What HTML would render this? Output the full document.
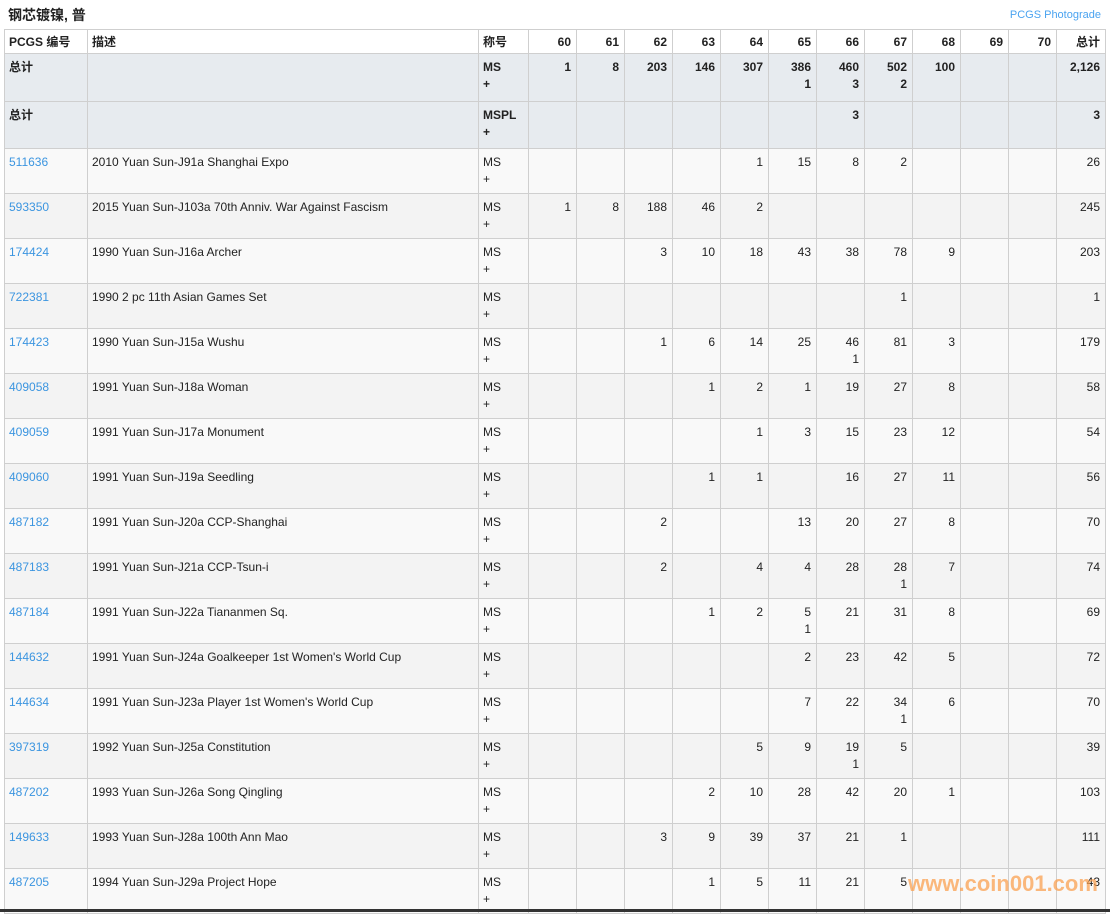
<!DOCTYPE html>
<html><head><meta charset="utf-8"><style>
body{margin:0;width:1110px;height:912px;overflow:hidden;background:#fff;font-family:"Liberation Sans","Noto Sans CJK SC",sans-serif;font-size:12px;color:#222;position:relative}
.t{position:absolute;left:8px;top:5px;font-weight:bold;font-size:14px}
.p{position:absolute;right:9px;top:9px;color:#4aa3f0;font-size:11px}
table{position:absolute;left:4px;top:29px;border-collapse:collapse;table-layout:fixed;width:1102px}
td{border:1px solid #cfcfcf;vertical-align:top;padding:5px 4px 0 4px;line-height:17px;overflow:hidden;white-space:nowrap}
td.n{text-align:right;padding-right:5px}
tr.h td{height:19px;font-weight:bold;padding-top:4px}
tr.s td{height:42px;background:#e7ebef;font-weight:bold}
tr.s2 td{height:41px}
tr.a td{height:39px;background:#f9f9f9}
tr.b td{height:39px;background:#f3f3f3}
a{color:#3b95e0;text-decoration:none}
.w{position:absolute;left:908px;top:871px;font:bold 22px "Liberation Sans",sans-serif;color:rgba(250,160,80,.75)}
.bl{position:absolute;left:0;top:909px;width:1110px;height:3px;background:#333}
</style></head><body>
<div class="t">钢芯镀镍, 普</div>
<div class="p">PCGS Photograde</div>
<table>
<colgroup><col style="width:83px"><col style="width:391px"><col style="width:50px"><col style="width:48px"><col style="width:48px"><col style="width:48px"><col style="width:48px"><col style="width:48px"><col style="width:48px"><col style="width:48px"><col style="width:48px"><col style="width:48px"><col style="width:48px"><col style="width:48px"><col style="width:49px"></colgroup>
<tr class="h"><td>PCGS 编号</td><td>描述</td><td>称号</td><td class="n">60</td><td class="n">61</td><td class="n">62</td><td class="n">63</td><td class="n">64</td><td class="n">65</td><td class="n">66</td><td class="n">67</td><td class="n">68</td><td class="n">69</td><td class="n">70</td><td class="n">总计</td></tr>
<tr class="s"><td>总计</td><td></td><td>MS<br>+</td><td class="n">1</td><td class="n">8</td><td class="n">203</td><td class="n">146</td><td class="n">307</td><td class="n">386<br>1</td><td class="n">460<br>3</td><td class="n">502<br>2</td><td class="n">100</td><td></td><td></td><td class="n">2,126</td></tr>
<tr class="s s2"><td>总计</td><td></td><td>MSPL<br>+</td><td></td><td></td><td></td><td></td><td></td><td></td><td class="n">3</td><td></td><td></td><td></td><td></td><td class="n">3</td></tr>
<tr class="a"><td><a>511636</a></td><td>2010 Yuan Sun-J91a Shanghai Expo</td><td>MS<br>+</td><td></td><td></td><td></td><td></td><td class="n">1</td><td class="n">15</td><td class="n">8</td><td class="n">2</td><td></td><td></td><td></td><td class="n">26</td></tr>
<tr class="b"><td><a>593350</a></td><td>2015 Yuan Sun-J103a 70th Anniv. War Against Fascism</td><td>MS<br>+</td><td class="n">1</td><td class="n">8</td><td class="n">188</td><td class="n">46</td><td class="n">2</td><td></td><td></td><td></td><td></td><td></td><td></td><td class="n">245</td></tr>
<tr class="a"><td><a>174424</a></td><td>1990 Yuan Sun-J16a Archer</td><td>MS<br>+</td><td></td><td></td><td class="n">3</td><td class="n">10</td><td class="n">18</td><td class="n">43</td><td class="n">38</td><td class="n">78</td><td class="n">9</td><td></td><td></td><td class="n">203</td></tr>
<tr class="b"><td><a>722381</a></td><td>1990 2 pc 11th Asian Games Set</td><td>MS<br>+</td><td></td><td></td><td></td><td></td><td></td><td></td><td></td><td class="n">1</td><td></td><td></td><td></td><td class="n">1</td></tr>
<tr class="a"><td><a>174423</a></td><td>1990 Yuan Sun-J15a Wushu</td><td>MS<br>+</td><td></td><td></td><td class="n">1</td><td class="n">6</td><td class="n">14</td><td class="n">25</td><td class="n">46<br>1</td><td class="n">81</td><td class="n">3</td><td></td><td></td><td class="n">179</td></tr>
<tr class="b"><td><a>409058</a></td><td>1991 Yuan Sun-J18a Woman</td><td>MS<br>+</td><td></td><td></td><td></td><td class="n">1</td><td class="n">2</td><td class="n">1</td><td class="n">19</td><td class="n">27</td><td class="n">8</td><td></td><td></td><td class="n">58</td></tr>
<tr class="a"><td><a>409059</a></td><td>1991 Yuan Sun-J17a Monument</td><td>MS<br>+</td><td></td><td></td><td></td><td></td><td class="n">1</td><td class="n">3</td><td class="n">15</td><td class="n">23</td><td class="n">12</td><td></td><td></td><td class="n">54</td></tr>
<tr class="b"><td><a>409060</a></td><td>1991 Yuan Sun-J19a Seedling</td><td>MS<br>+</td><td></td><td></td><td></td><td class="n">1</td><td class="n">1</td><td></td><td class="n">16</td><td class="n">27</td><td class="n">11</td><td></td><td></td><td class="n">56</td></tr>
<tr class="a"><td><a>487182</a></td><td>1991 Yuan Sun-J20a CCP-Shanghai</td><td>MS<br>+</td><td></td><td></td><td class="n">2</td><td></td><td></td><td class="n">13</td><td class="n">20</td><td class="n">27</td><td class="n">8</td><td></td><td></td><td class="n">70</td></tr>
<tr class="b"><td><a>487183</a></td><td>1991 Yuan Sun-J21a CCP-Tsun-i</td><td>MS<br>+</td><td></td><td></td><td class="n">2</td><td></td><td class="n">4</td><td class="n">4</td><td class="n">28</td><td class="n">28<br>1</td><td class="n">7</td><td></td><td></td><td class="n">74</td></tr>
<tr class="a"><td><a>487184</a></td><td>1991 Yuan Sun-J22a Tiananmen Sq.</td><td>MS<br>+</td><td></td><td></td><td></td><td class="n">1</td><td class="n">2</td><td class="n">5<br>1</td><td class="n">21</td><td class="n">31</td><td class="n">8</td><td></td><td></td><td class="n">69</td></tr>
<tr class="b"><td><a>144632</a></td><td>1991 Yuan Sun-J24a Goalkeeper 1st Women's World Cup</td><td>MS<br>+</td><td></td><td></td><td></td><td></td><td></td><td class="n">2</td><td class="n">23</td><td class="n">42</td><td class="n">5</td><td></td><td></td><td class="n">72</td></tr>
<tr class="a"><td><a>144634</a></td><td>1991 Yuan Sun-J23a Player 1st Women's World Cup</td><td>MS<br>+</td><td></td><td></td><td></td><td></td><td></td><td class="n">7</td><td class="n">22</td><td class="n">34<br>1</td><td class="n">6</td><td></td><td></td><td class="n">70</td></tr>
<tr class="b"><td><a>397319</a></td><td>1992 Yuan Sun-J25a Constitution</td><td>MS<br>+</td><td></td><td></td><td></td><td></td><td class="n">5</td><td class="n">9</td><td class="n">19<br>1</td><td class="n">5</td><td></td><td></td><td></td><td class="n">39</td></tr>
<tr class="a"><td><a>487202</a></td><td>1993 Yuan Sun-J26a Song Qingling</td><td>MS<br>+</td><td></td><td></td><td></td><td class="n">2</td><td class="n">10</td><td class="n">28</td><td class="n">42</td><td class="n">20</td><td class="n">1</td><td></td><td></td><td class="n">103</td></tr>
<tr class="b"><td><a>149633</a></td><td>1993 Yuan Sun-J28a 100th Ann Mao</td><td>MS<br>+</td><td></td><td></td><td class="n">3</td><td class="n">9</td><td class="n">39</td><td class="n">37</td><td class="n">21</td><td class="n">1</td><td></td><td></td><td></td><td class="n">111</td></tr>
<tr class="a"><td><a>487205</a></td><td>1994 Yuan Sun-J29a Project Hope</td><td>MS<br>+</td><td></td><td></td><td></td><td class="n">1</td><td class="n">5</td><td class="n">11</td><td class="n">21</td><td class="n">5</td><td></td><td></td><td></td><td class="n">43</td></tr>
</table>
<div class="w">www.coin001.com</div>
<div class="bl"></div>
</body></html>
